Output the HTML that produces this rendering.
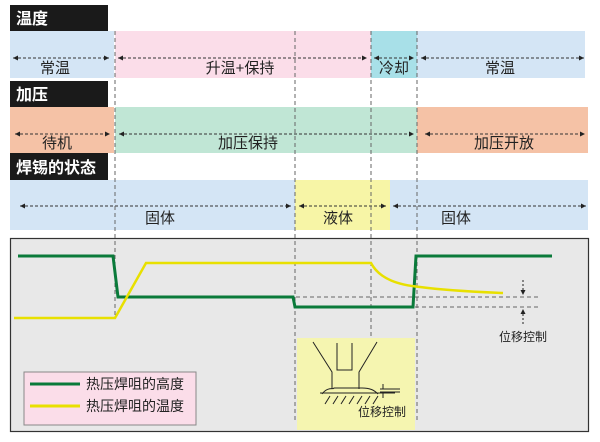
<!DOCTYPE html><html><head><meta charset="utf-8"><style>
body{margin:0;width:600px;height:437px;background:#fff;overflow:hidden;font-family:"Liberation Sans","Noto Sans CJK SC",sans-serif}
</style></head><body>
<svg width="600" height="437" viewBox="0 0 600 437" xmlns="http://www.w3.org/2000/svg" font-family="Liberation Sans, Noto Sans CJK SC, sans-serif">
<defs><marker id="a" markerWidth="6" markerHeight="6" refX="5" refY="3" orient="auto-start-reverse"><path d="M0,0.5 L5,3 L0,5.5z" fill="#222"/></marker></defs>
<rect x="10" y="5" width="98" height="26" fill="#1a1a1a"/><text x="16" y="24" fill="#fff" font-size="16" font-weight="bold">温度</text>
<rect x="10" y="81" width="98" height="26" fill="#1a1a1a"/><text x="16" y="100" fill="#fff" font-size="16" font-weight="bold">加压</text>
<rect x="10" y="153" width="98" height="27" fill="#1a1a1a"/><text x="16" y="173" fill="#fff" font-size="16" font-weight="bold">焊锡的状态</text>
<rect x="10" y="31" width="104" height="47" fill="#d4e5f5"/>
<rect x="115" y="31" width="256" height="47" fill="#fbdde9"/>
<rect x="371" y="31" width="46" height="47" fill="#a8e0e8"/>
<rect x="417" y="31" width="168" height="47" fill="#d4e5f5"/>
<rect x="10" y="107" width="104" height="46" fill="#f5c2a6"/>
<rect x="115" y="107" width="302" height="46" fill="#c0e6d5"/>
<rect x="417" y="107" width="171" height="46" fill="#f5c2a6"/>
<rect x="10" y="180" width="285" height="50" fill="#d4e5f5"/>
<rect x="295" y="180" width="95" height="50" fill="#f7f5a6"/>
<rect x="390" y="180" width="198" height="50" fill="#d4e5f5"/>
<g stroke="#333" stroke-dasharray="3,2" stroke-width="1" marker-start="url(#a)" marker-end="url(#a)">
<line x1="13" y1="58" x2="109" y2="58"/><line x1="118" y1="58" x2="367" y2="58"/><line x1="374" y1="58" x2="414" y2="58"/><line x1="421" y1="58" x2="584" y2="58"/>
<line x1="15" y1="134" x2="110" y2="134"/><line x1="119" y1="134" x2="414" y2="134"/><line x1="425" y1="134" x2="585" y2="134"/>
<line x1="20" y1="206" x2="291" y2="206"/><line x1="299" y1="206" x2="386" y2="206"/><line x1="393" y1="206" x2="586" y2="206"/>
</g>
<g font-size="15" fill="#222" text-anchor="middle">
<text x="55" y="73">常温</text><text x="240" y="73">升温+保持</text><text x="394" y="73">冷却</text><text x="500" y="73">常温</text>
<text x="57" y="148">待机</text><text x="248" y="148">加压保持</text><text x="504" y="148">加压开放</text>
<text x="160" y="223">固体</text><text x="338" y="223">液体</text><text x="456" y="223">固体</text>
</g>
<rect x="10.5" y="238.5" width="578" height="193" fill="#e8e8e8" stroke="#333" stroke-width="1.2"/>
<g stroke="#666" stroke-dasharray="4,3" stroke-width="1">
<line x1="115" y1="31" x2="115" y2="318"/><line x1="295" y1="31" x2="295" y2="420"/><line x1="371" y1="31" x2="371" y2="340"/><line x1="417" y1="31" x2="417" y2="420"/>
<line x1="240" y1="297" x2="538" y2="297"/><line x1="310" y1="307" x2="538" y2="307"/>
</g>
<polyline points="18,256 113,256 118,297 293,297 295,307 413,307 416,256 552,256" fill="none" stroke="#0a7a3a" stroke-width="3"/>
<path d="M14,318 L115,318 L146,263 L371,263 C380,280 400,285 420,287 C450,291 480,292 503,293" fill="none" stroke="#e8e000" stroke-width="2.5"/>
<g stroke="#222" stroke-dasharray="2,2"><line x1="523" y1="280" x2="523" y2="295" marker-end="url(#a)"/><line x1="523" y1="324" x2="523" y2="309" marker-end="url(#a)"/></g>
<text x="523" y="341" font-size="12" fill="#222" text-anchor="middle">位移控制</text>
<rect x="297" y="338" width="118" height="92" fill="#f5f5b0"/>
<g stroke="#222" stroke-width="1" fill="none">
<path d="M313,342 L332,372 L332,389"/><path d="M377,342 L359,372 L359,389"/>
<path d="M337,343 L337,370 L352,370 L352,343"/>
<path d="M320,393 L395,393"/><path d="M322,394 C328,386 334,390 334,388 L362,388 C370,388 374,390 378,394"/>
<path d="M325,404 l5,-8 M333,404 l5,-8 M341,404 l5,-8 M349,404 l5,-8 M357,404 l5,-8 M365,404 l5,-8 M373,404 l5,-8"/>
<path d="M380,389 L400,389 M380,392 L400,392 M383,384 L383,389 M383,392 L383,398"/>
</g>
<text x="382" y="416" font-size="12" fill="#222" text-anchor="middle">位移控制</text>
<rect x="24" y="372" width="172" height="53" fill="#fbdde9" stroke="#888"/>
<line x1="30" y1="384" x2="80" y2="384" stroke="#0a7a3a" stroke-width="3"/>
<line x1="30" y1="406" x2="80" y2="406" stroke="#e8e000" stroke-width="3"/>
<text x="86" y="389" font-size="14" fill="#222">热压焊咀的高度</text>
<text x="86" y="411" font-size="14" fill="#222">热压焊咀的温度</text>
</svg>
</body></html>
